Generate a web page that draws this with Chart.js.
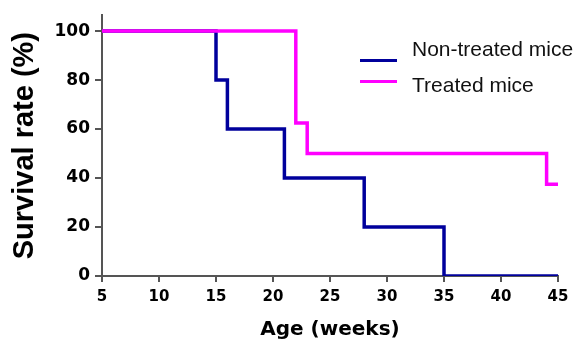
<!DOCTYPE html>
<html>
<head>
<meta charset="utf-8">
<script src="https://cdn.jsdelivr.net/npm/chart.js@4/dist/chart.umd.min.js"></script>
<style>
    html, body { margin: 0; padding: 0; background: #fff; }
    #wrap { position: relative; width: 578px; height: 341px; }
    .leyenda-linea { position: absolute; left: 360px; width: 37px; height: 3px; }
    .leyenda-texto { position: absolute; left: 412px; font: 21px "Liberation Sans", Arial, sans-serif; line-height: 20px; color: #111; white-space: nowrap; }
</style>
</head>
<body>
<div id="wrap">
    <canvas id="grafico" width="578" height="341"></canvas>
    <div class="leyenda-linea" style="top:58.5px;background:#00009c"></div>
    <div class="leyenda-texto" style="top:39px">Non-treated mice</div>
    <div class="leyenda-linea" style="top:80px;background:#ff00ff"></div>
    <div class="leyenda-texto" style="top:75px">Treated mice</div>
</div>
<script>
// datos (semanas de edad / supervivencia %)
const semanasNoTratados = [5, 15, 16, 21, 28, 35, 45];
const supervivenciaNoTratados = [100, 80, 60, 40, 20, 0, 0];
const semanasTratados = [5, 22, 23, 44, 45];
const supervivenciaTratados = [100, 62.5, 50, 37.5, 37.5];
const ticksX = [5, 10, 15, 20, 25, 30, 35, 40, 45];
const ticksY = [0, 20, 40, 60, 80, 100];

function puntos(xs, ys) {
    return xs.map(function(x, i) { return { x: x, y: ys[i] }; });
}

const ctx = document.getElementById('grafico').getContext('2d');

new Chart(ctx, {
    type: 'line',
    data: {
        datasets: [
            {
                label: 'Non-treated mice',
                data: puntos(semanasNoTratados, supervivenciaNoTratados),
                borderColor: '#00009c',
                borderWidth: 3.5,
                stepped: 'before',
                pointRadius: 0,
                fill: false,
                order: 1
            },
            {
                label: 'Treated mice',
                data: puntos(semanasTratados, supervivenciaTratados),
                borderColor: '#ff00ff',
                borderWidth: 3.5,
                stepped: 'before',
                pointRadius: 0,
                fill: false,
                order: 0
            }
        ]
    },
    options: {
        responsive: false,
        animation: false,
        layout: { padding: { top: 13, right: 20, left: 0, bottom: 0 } },
        plugins: {
            legend: { display: false },
            tooltip: { enabled: false }
        },
        scales: {
            x: {
                type: 'linear',
                min: 5,
                max: 45,
                afterBuildTicks: function(scale) {
                    scale.ticks = ticksX.map(function(v) { return { value: v }; });
                },
                afterFit: function(scale) { scale.height = 65; },
                border: { color: '#555', width: 2 },
                grid: { drawOnChartArea: false, color: '#555', lineWidth: 2, tickLength: 6 },
                ticks: {
                    color: '#000',
                    padding: 6,
                    maxRotation: 0,
                    font: { family: 'DejaVu Sans', weight: 'bold', size: 15 }
                },
                title: {
                    display: true,
                    text: 'Age (weeks)',
                    color: '#000',
                    padding: { top: 0, bottom: 1 },
                    font: { family: 'DejaVu Sans', weight: 'bold', size: 20, lineHeight: 1 }
                }
            },
            y: {
                min: 0,
                max: 106.5,
                afterBuildTicks: function(scale) {
                    scale.ticks = ticksY.map(function(v) { return { value: v }; });
                },
                afterFit: function(scale) { scale.width = 102; },
                border: { color: '#555', width: 2 },
                grid: { drawOnChartArea: false, color: '#555', lineWidth: 2, tickLength: 7 },
                ticks: {
                    color: '#000',
                    padding: 5,
                    font: { family: 'DejaVu Sans', weight: 'bold', size: 17 }
                },
                title: {
                    display: true,
                    text: 'Survival rate (%)',
                    color: '#000',
                    padding: { top: 8, bottom: 0 },
                    font: { family: 'Liberation Sans', weight: 'bold', size: 29, lineHeight: 1.2 }
                }
            }
        }
    }
});
</script>
</body>
</html>
